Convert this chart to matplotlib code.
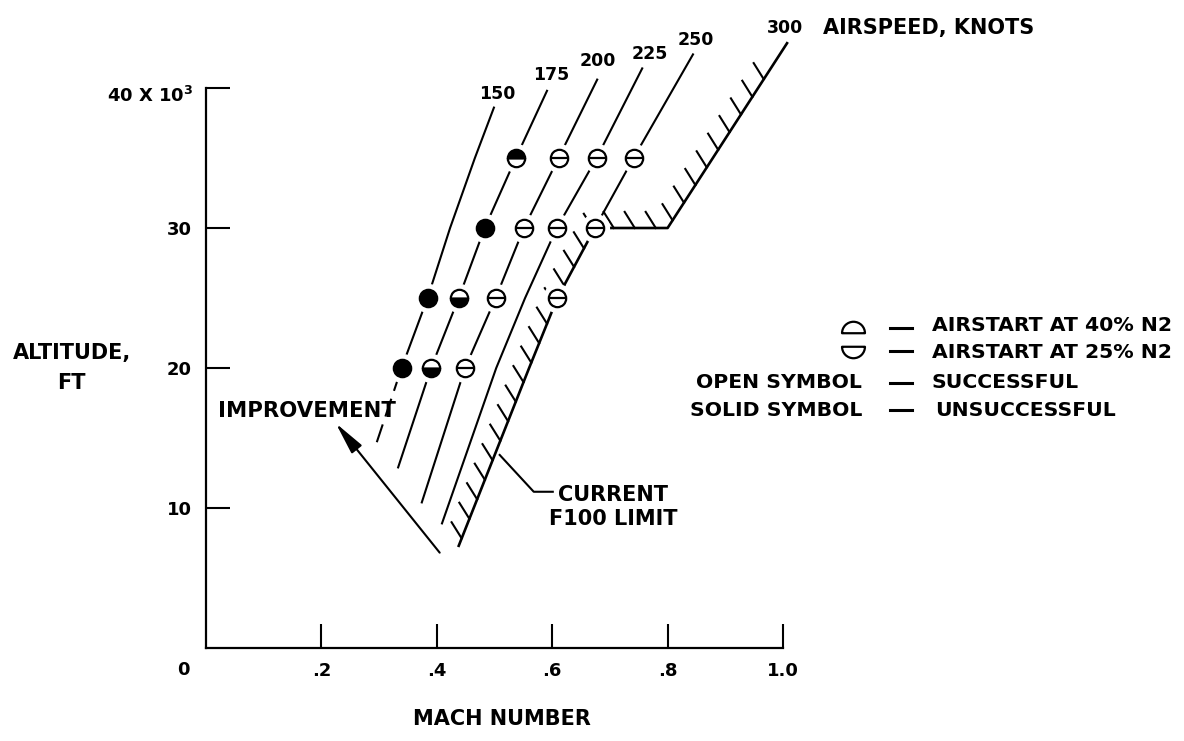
import numpy as np
import matplotlib.pyplot as plt
from matplotlib.path import Path

plt.rcParams['font.family'] = ['DejaVu Sans']
plt.rcParams['font.weight'] = 'bold'
plt.rcParams['mathtext.default'] = 'bf'

# constant airspeed lines (Mach, altitude in 1000 ft)
kt150_mach = [0.296, 0.339, 0.384, 0.423, 0.466, 0.499]
kt150_alt = [14.7, 20, 25, 30, 35, 38.6]
kt175_mach = [0.333, 0.390, 0.438, 0.483, 0.537, 0.591]
kt175_alt = [12.9, 20, 25, 30, 35, 39.8]
kt200_mach = [0.374, 0.449, 0.502, 0.551, 0.611, 0.678]
kt200_alt = [10.4, 20, 25, 30, 35, 40.6]
kt225_mach = [0.409, 0.503, 0.553, 0.608, 0.677, 0.756]
kt225_alt = [8.9, 20, 25, 30, 35, 41.4]
kt250_mach = [0.674, 0.741, 0.844]
kt250_alt = [30, 35, 42.4]

# current F100 limit (250 kt line, 30k ft, 300 kt line)
limit_mach = [0.438, 0.560, 0.609, 0.674, 0.800, 1.007]
limit_alt = [7.3, 20, 25, 30, 30, 43.2]

# airstart points; fill: full = solid, bottom/top = half solid, none = open
pt_mach = [0.339, 0.390, 0.449,
           0.384, 0.438, 0.502, 0.609,
           0.483, 0.551, 0.608, 0.674,
           0.537, 0.611, 0.677, 0.741]
pt_alt = [20, 20, 20,
          25, 25, 25, 25,
          30, 30, 30, 30,
          35, 35, 35, 35]
pt_fill = ['full', 'bottom', 'none',
           'full', 'bottom', 'none', 'none',
           'full', 'none', 'none', 'none',
           'top', 'none', 'none', 'none']

speed_labels = ['150', '175', '200', '225', '250', '300']
speed_lab_mach = [0.504, 0.598, 0.679, 0.769, 0.849, 1.003]
speed_lab_alt = [39.6, 40.9, 41.9, 42.4, 43.4, 44.3]

fig = plt.figure(figsize=(11.84, 7.41), dpi=100)
ax = fig.add_axes([206 / 1184, 93 / 741, 577 / 1184, 560 / 741])
ax.set_xlim(0, 1)
ax.set_ylim(0, 40)
for s in ['top', 'right']:
    ax.spines[s].set_visible(False)
for s in ['left', 'bottom']:
    ax.spines[s].set_linewidth(1.6)
ax.set_xticks([0.2, 0.4, 0.6, 0.8, 1.0], ['.2', '.4', '.6', '.8', '1.0'])
ax.set_yticks([10, 20, 30, 40], ['10', '20', '30', ''])
ax.tick_params(direction='in', length=17, width=1.5, labelsize=13, pad=10)

lw = 1.5
ax.plot(kt150_mach[1:], kt150_alt[1:], color='k', lw=lw, clip_on=False)
ax.plot(kt150_mach[:2], kt150_alt[:2], color='k', lw=lw, dashes=(9, 4), clip_on=False)
for m, a in [(kt175_mach, kt175_alt), (kt200_mach, kt200_alt),
             (kt225_mach, kt225_alt), (kt250_mach, kt250_alt)]:
    ax.plot(m, a, color='k', lw=lw, clip_on=False)
ax.plot(limit_mach, limit_alt, color='k', lw=1.9, clip_on=False)


def hatch(xs, ys, spacing=21, length=19, start=8, end_gap=22):
    pts = ax.transData.transform(np.column_stack([xs, ys]))
    seg = np.diff(pts, axis=0)
    seglen = np.hypot(seg[:, 0], seg[:, 1])
    cum = np.concatenate([[0], np.cumsum(seglen)])
    d = np.array([-0.53, 0.848])
    inv = ax.transData.inverted()
    for s in np.arange(start, cum[-1] - end_gap, spacing):
        i = min(np.searchsorted(cum, s, side='right') - 1, len(seglen) - 1)
        p = pts[i] + (s - cum[i]) / seglen[i] * seg[i]
        (x0, y0), (x1, y1) = inv.transform([p, p + length * d])
        ax.plot([x0, x1], [y0, y1], color='k', lw=1.5, clip_on=False)


hatch(limit_mach, limit_alt)

# white halo so the lines break around the symbols
ax.plot(pt_mach, pt_alt, 'o', ms=20, color='white', zorder=3, clip_on=False)
for m, a, f in zip(pt_mach, pt_alt, pt_fill):
    if f == 'none':
        ax.plot(m, a, 'o', ms=12.5, mfc='white', mec='k', mew=1.6, zorder=4)
        ax.plot(m, a, '_', ms=12.5, mec='k', mew=1.6, zorder=5)
    else:
        ax.plot(m, a, 'o', ms=12.5, fillstyle=f, mfc='k', mfcalt='white',
                mec='k', mew=1.6, zorder=4)

for t, m, a in zip(speed_labels, speed_lab_mach, speed_lab_alt):
    ax.text(m, a, t, ha='center', va='center', fontsize=12.5, clip_on=False)
ax.text(1.069, 44.3, 'AIRSPEED, KNOTS', ha='left', va='center', fontsize=15)

# axis labels
ax.text(-0.0225, 39.0, r'40 X 10$^3$', ha='right', va='baseline', fontsize=13)
ax.text(-0.040, -1.55, '0', ha='center', va='center', fontsize=13)
ax.text(-0.232, 21.1, 'ALTITUDE,', ha='center', va='center', fontsize=15)
ax.text(-0.234, 18.9, 'FT', ha='center', va='center', fontsize=15)
ax.text(0.513, -5.1, 'MACH NUMBER', ha='center', va='center', fontsize=15)

# annotations
ax.text(0.021, 16.93, 'IMPROVEMENT', ha='left', va='center', fontsize=15.3)
ax.annotate('', xy=(0.225, 16.05), xytext=(0.405, 6.81),
            arrowprops=dict(arrowstyle='-|>,head_length=0.9,head_width=0.18',
                            color='k', lw=1.5, mutation_scale=22, shrinkA=0, shrinkB=0))
ax.plot([0.509, 0.568, 0.601], [13.79, 11.16, 11.16], color='k', lw=1.5, clip_on=False)
ax.text(0.705, 10.93, 'CURRENT', ha='center', va='center', fontsize=15)
ax.text(0.705, 9.21, 'F100 LIMIT', ha='center', va='center', fontsize=15)

# key
arc = Path.arc(0, 180)
v = np.vstack([arc.vertices, [[0, 0]]])
codes = list(arc.codes) + [Path.CLOSEPOLY]
top_half = Path(v - [0, 0.5], codes)
bot_half = Path(-v + [0, 0.5], codes)
ax.plot(1.122, 22.93, marker=top_half, ms=16.5, mfc='white', mec='k', mew=1.6, clip_on=False)
ax.plot(1.122, 21.11, marker=bot_half, ms=16.5, mfc='white', mec='k', mew=1.6, clip_on=False)
for a in [22.86, 21.21, 18.93, 17.0]:
    ax.plot([1.185, 1.224], [a, a], color='k', lw=2.2, clip_on=False)
ax.text(1.258, 23.07, 'AIRSTART AT 40% N2', ha='left', va='center', fontsize=14.7)
ax.text(1.258, 21.14, 'AIRSTART AT 25% N2', ha='left', va='center', fontsize=14.7)
ax.text(1.137, 18.93, 'OPEN SYMBOL', ha='right', va='center', fontsize=14.7)
ax.text(1.137, 17.0, 'SOLID SYMBOL', ha='right', va='center', fontsize=14.7)
ax.text(1.258, 18.93, 'SUCCESSFUL', ha='left', va='center', fontsize=14.7)
ax.text(1.263, 17.0, 'UNSUCCESSFUL', ha='left', va='center', fontsize=14.7)

fig.savefig('out.png', dpi=100)
